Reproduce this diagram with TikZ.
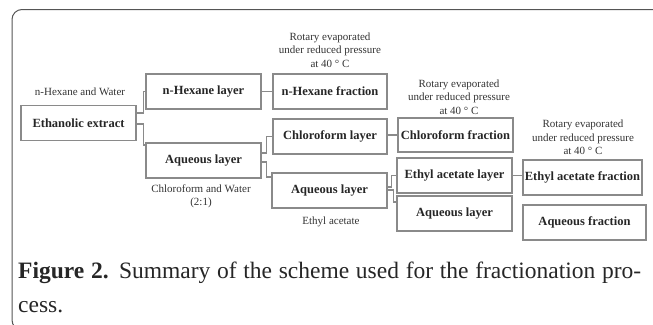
\documentclass[tikz,border=0pt]{standalone}
\usepackage{fontspec}
\setmainfont{Liberation Serif}
\usetikzlibrary{calc}
\definecolor{boxline}{HTML}{8A8A8A}
\definecolor{frameline}{HTML}{555555}
\tikzset{
  stagebox/.style={draw=boxline, line width=1.1pt, rectangle, minimum width=115pt, minimum height=35pt, inner sep=0pt,
    font=\fontsize{12.5}{14}\selectfont\bfseries, text=black!85},
  link/.style={draw=boxline, line width=1.1pt},
  note/.style={inner sep=0pt, align=center, font=\fontsize{11}{13.3}\selectfont, text=black!80},
  capline/.style={inner sep=0pt, anchor=base west, font=\fontsize{23.5}{28}\selectfont, text=black!85},
  frame/.style={draw=frameline, line width=1pt}
}
\begin{document}
\begin{tikzpicture}[x=1pt,y=-1pt]
\useasboundingbox (0,0) rectangle (653,324);
\clip (0,0) rectangle (653,324);
% frame
\draw[frame, rounded corners=10pt] (660,9.5) -- (12,9.5) -- (12,330) -- (40,330);
% boxes
\node[stagebox] (eth)  at (78.5,123)   {Ethanolic extract};
\node[stagebox] (hexl) at (203.5,91.5) {n-Hexane layer};
\node[stagebox] (aqa)  at (203.5,160.5){Aqueous layer};
\node[stagebox, minimum width=114pt] (hexf) at (330,91.5) {n-Hexane fraction};
\node[stagebox, minimum width=114pt] (chll) at (330,136.5) {Chloroform layer};
\node[stagebox] (aqb)  at (329.5,190.5){Aqueous layer};
\node[stagebox, minimum height=34pt] (chlf) at (455.5,135) {Chloroform fraction};
\node[stagebox] (etl)  at (454.5,175.5){Ethyl acetate layer};
\node[stagebox] (aqc)  at (454.5,213.5){Aqueous layer};
\node[stagebox, minimum width=119pt] (etf) at (582.5,177.5) {Ethyl acetate fraction};
\node[stagebox, minimum width=123pt] (aqf) at (584.5,222.5) {Aqueous fraction};
% notes
\node[note] (n1) at (80,92) {n-Hexane and Water};
\node[note] (n2) at (330,50) {Rotary evaporated\\under reduced pressure\\at 40 ° C};
\node[note] (n3) at (459,97) {Rotary evaporated\\under reduced pressure\\at 40 ° C};
\node[note] (n4) at (583,137.5) {Rotary evaporated\\under reduced pressure\\at 40 ° C};
\node[note] (n5) at (201,196.5) {Chloroform and Water\\(2:1)};
\node[note] (n6) at (331,222) {Ethyl acetate};
% connectors
\draw[link] ($(eth.east)+(0,-10)$) -- ++(7,0) |- (hexl.west);
\draw[link] ($(eth.east)+(0,1)$) -- ++(7,0) |- ($(aqa.west)+(0,-15.5)$);
\draw[link] (hexl.east) -- (hexf.west);
\draw[link] ($(aqa.east)+(0,-7.5)$) -- ++(5,0) |- (chll.west);
\draw[link] ($(aqa.east)+(0,1.5)$) -- ++(5,0) |- ($(aqb.west)+(0,-13.5)$);
\draw[link] (chll.east |- chlf.west) -- (chlf.west);
\draw[link] ($(aqb.east)+(0,-3.5)$) -- ++(4,0) |- (etl.west);
\draw[link] ($(aqb.east)+(0,-0.5)$) -- ++(5.5,0) |- ($(aqc.west)+(0,-11.5)$);
\draw[link] (etl.east) -- (etl.east -| etf.west);
\draw[link] ($(aqc.east)+(0,2)$) -- ($(aqc.east)+(0,2)$ -| aqf.west);
% caption
\node[capline] (cap1) at (18,278) {\makebox[623pt][s]{\textbf{Figure 2.} Summary of the scheme used for the fractionation pro-}};
\node[capline] (cap2) at (18,312) {cess.};
\end{tikzpicture}
\end{document}
